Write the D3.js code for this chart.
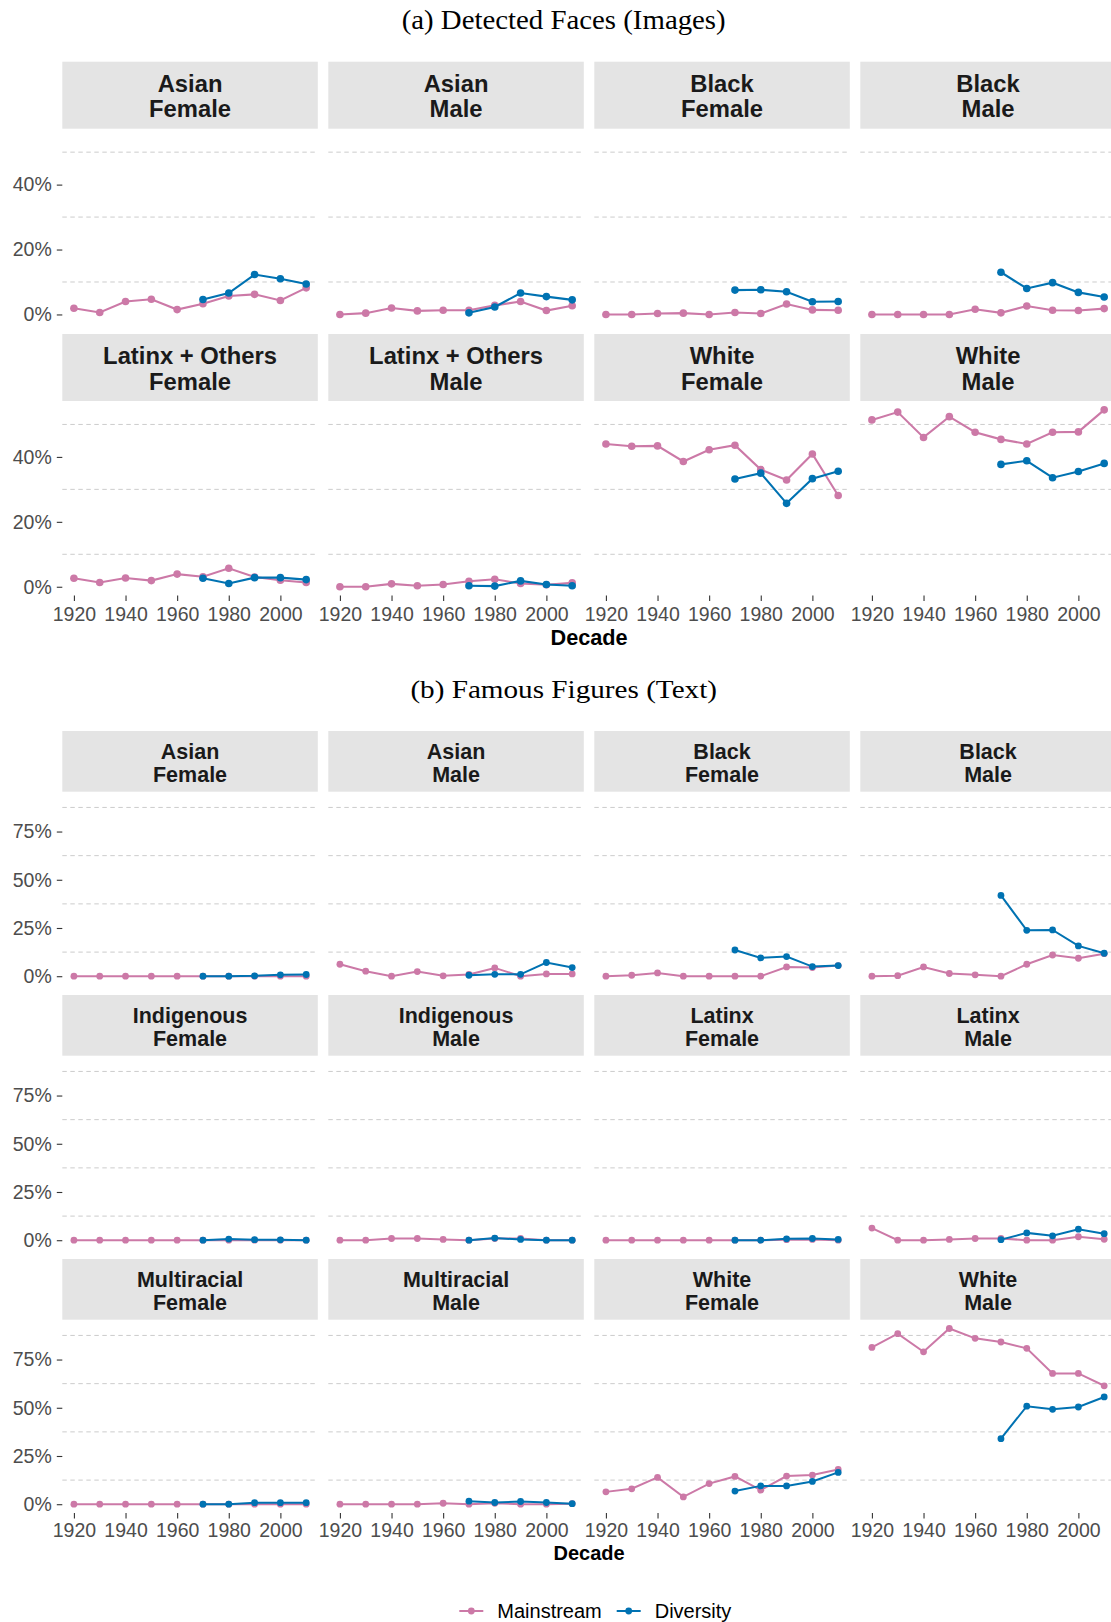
<!DOCTYPE html>
<html>
<head>
<meta charset="utf-8">
<script src="https://cdn.jsdelivr.net/npm/d3@7"></script>
<style>
body { margin: 0; background: #fff; }
text { font-family: "Liberation Sans", Arial, sans-serif; }
</style>
</head>
<body>
<script>
//Page size
var W = 1111, H = 1622;

//Decades on the x axis. Diversity series only start in 1970
var decades = [1920, 1930, 1940, 1950, 1960, 1970, 1980, 1990, 2000, 2010];
var divDecades = [1970, 1980, 1990, 2000, 2010];
var yearTicks = [1920, 1940, 1960, 1980, 2000];

var seriesNames = ["Mainstream", "Diversity"];
var seriesColors = ["#CC79A7", "#0072B2"];

//(a) Detected Faces (Images), values in percent
var faceGroups = [
	["Asian", "Female"], ["Asian", "Male"], ["Black", "Female"], ["Black", "Male"],
	["Latinx + Others", "Female"], ["Latinx + Others", "Male"], ["White", "Female"], ["White", "Male"]
];
var faceMainstream = [
	[1.9, 0.6, 4.0, 4.7, 1.5, 3.3, 5.7, 6.2, 4.3, 8.2],
	[0, 0.4, 2.0, 1.1, 1.3, 1.3, 2.8, 4.0, 1.2, 2.7],
	[0, 0, 0.3, 0.4, 0, 0.6, 0.3, 3.2, 1.4, 1.3],
	[0, 0, 0, 0, 1.6, 0.5, 2.6, 1.3, 1.2, 1.8],
	[2.6, 1.3, 2.7, 1.9, 3.9, 3.1, 5.7, 3.0, 2.0, 1.3],
	[0, 0, 0.9, 0.3, 0.7, 1.7, 2.3, 1.0, 0.6, 1.2],
	[44.0, 43.3, 43.4, 38.6, 42.2, 43.6, 36.1, 32.9, 40.9, 28.1],
	[51.4, 53.8, 46.0, 52.4, 47.6, 45.4, 44.0, 47.6, 47.7, 54.5]
];
var faceDiversity = [
	[4.6, 6.6, 12.3, 11.0, 9.4],
	[0.5, 2.3, 6.6, 5.5, 4.5],
	[7.5, 7.6, 7.0, 3.9, 4.0],
	[13.0, 8.0, 9.8, 6.8, 5.4],
	[2.6, 1.0, 2.8, 2.8, 2.2],
	[0.3, 0.2, 1.8, 0.7, 0.3],
	[33.2, 35.0, 25.7, 33.3, 35.6],
	[37.7, 38.8, 33.6, 35.5, 38.0]
];
var faceTicks = [0, 20, 40];
var faceGrid = [10, 30, 50];

//(b) Famous Figures (Text), values in percent
var textGroups = [
	["Asian", "Female"], ["Asian", "Male"], ["Black", "Female"], ["Black", "Male"],
	["Indigenous", "Female"], ["Indigenous", "Male"], ["Latinx", "Female"], ["Latinx", "Male"],
	["Multiracial", "Female"], ["Multiracial", "Male"], ["White", "Female"], ["White", "Male"]
];
var textMainstream = [
	[0, 0, 0, 0, 0, 0, 0, 0, 0, 0],
	[6.2, 2.6, 0, 2.4, 0.2, 0.9, 4.3, 0, 1.2, 1.2],
	[0, 0.5, 1.7, 0, 0, 0, 0, 4.8, 4.5, 5.5],
	[0, 0.3, 4.8, 1.4, 0.7, 0, 6.2, 11.0, 9.3, 11.7],
	[0, 0, 0, 0, 0, 0, 0, 0, 0, 0],
	[0, 0, 0.9, 0.9, 0.4, 0, 0.9, 0.9, 0, 0],
	[0, 0, 0, 0, 0, 0, 0, 0.3, 0.4, 0],
	[6.3, 0, 0, 0.4, 0.9, 0.9, 0, 0, 1.8, 0.5],
	[0, 0, 0, 0, 0, 0, 0, 0, 0, 0],
	[0, 0, 0, 0, 0.5, 0, 0.5, 0, 0, 0.3],
	[6.4, 8.0, 13.9, 3.8, 10.7, 14.4, 7.3, 14.6, 15.1, 18.0],
	[81.3, 88.4, 79.0, 91.1, 86.0, 84.1, 80.8, 67.8, 67.8, 61.4]
];
var textDiversity = [
	[0, 0, 0.2, 0.7, 0.9],
	[0.5, 1.0, 1.0, 7.1, 4.5],
	[13.6, 9.5, 10.2, 5.0, 5.5],
	[41.9, 23.8, 24.0, 15.7, 11.9],
	[0, 0.6, 0.3, 0.2, 0],
	[0, 1.1, 0.4, 0, 0],
	[0, 0, 0.7, 0.9, 0.4],
	[0.3, 3.8, 2.3, 5.7, 3.4],
	[0, 0, 0.8, 0.8, 0.8],
	[1.6, 0.9, 1.4, 0.9, 0.3],
	[6.8, 9.5, 9.5, 11.8, 16.5],
	[34.0, 50.8, 49.2, 50.4, 55.6]
];
var textTicks = [0, 25, 50, 75];
var textGrid = [12.5, 37.5, 62.5, 87.5];

//Panel grid, shared by both sub figures
var panelX0 = 62.3, panelW = 255.5, gapX = 10.5, nCols = 4;
var plotMid = panelX0 + (nCols * panelW + (nCols - 1) * gapX) / 2;

var svg = d3.select("body")
	.append("svg")
	.attr("width", W)
	.attr("height", H);

svg.append("rect")
	.attr("width", W)
	.attr("height", H)
	.style("fill", "white");

//ggplot style 5% expansion on both ends
function expand(lo, hi) {
	var pad = (hi - lo) * 0.05;
	return [lo - pad, hi + pad];
}

var x = d3.scaleLinear()
	.domain(expand(d3.min(decades), d3.max(decades)))
	.range([0, panelW]);

function drawSection(cfg) {
	svg.append("text")
		.attr("x", 563.7)
		.attr("y", cfg.titleY)
		.attr("text-anchor", "middle")
		.attr("textLength", cfg.titleW)
		.attr("lengthAdjust", "spacingAndGlyphs")
		.style("font-family", "'Liberation Serif', 'Times New Roman', serif")
		.style("font-size", cfg.titleSize + "px")
		.style("fill", "#000")
		.text(cfg.title);

	var maxV = d3.max(cfg.main.concat(cfg.div), function(s){return d3.max(s)});
	var y = d3.scaleLinear()
		.domain(expand(0, maxV))
		.range([cfg.panelH, 0]);

	var nRows = Math.ceil(cfg.groups.length / nCols);
	var line = d3.line()
		.x(function(d){return x(d[0])})
		.y(function(d){return y(d[1])});

	cfg.groups.forEach(function(g, i) {
		var col = i % nCols, row = Math.floor(i / nCols);
		var px = panelX0 + col * (panelW + gapX);
		var stripTop = cfg.top + row * cfg.rowStep;

		//strip
		svg.append("rect")
			.attr("x", px).attr("y", stripTop)
			.attr("width", panelW).attr("height", cfg.stripH)
			.style("fill", "#E4E4E4");
		g.forEach(function(t, k) {
			svg.append("text")
				.attr("x", px + panelW / 2)
				.attr("y", stripTop + cfg.stripLines[k])
				.attr("text-anchor", "middle")
				.style("font-size", cfg.stripSize + "px")
				.style("font-weight", "bold")
				.style("fill", "#1A1A1A")
				.text(t);
		});

		var panel = svg.append("g")
			.attr("transform", "translate(" + px + "," + (stripTop + cfg.stripH) + ")");

		panel.selectAll(".grid")
			.data(cfg.grid)
			.enter().append("line")
			.attr("x1", 0).attr("x2", panelW)
			.attr("y1", function(d){return y(d)})
			.attr("y2", function(d){return y(d)})
			.style("stroke", "#CCCCCC")
			.style("stroke-width", 1)
			.style("stroke-dasharray", "4.5,3.5");

		var series = [
			d3.zip(decades, cfg.main[i]),
			d3.zip(divDecades, cfg.div[i])
		];
		series.forEach(function(s, k) {
			panel.append("path")
				.datum(s)
				.attr("d", line)
				.style("fill", "none")
				.style("stroke", seriesColors[k])
				.style("stroke-width", cfg.lineW);
			panel.selectAll(".pt" + k)
				.data(s)
				.enter().append("circle")
				.attr("cx", function(d){return x(d[0])})
				.attr("cy", function(d){return y(d[1])})
				.attr("r", cfg.ptR)
				.style("fill", seriesColors[k]);
		});

		if (col == 0) {
			var ya = panel.append("g")
				.call(d3.axisLeft(y).tickValues(cfg.ticks).tickSize(5.5).tickPadding(5)
					.tickFormat(function(d){return d + "%"}));
			styleAxis(ya, cfg.tickSize);
		}
		if (row == nRows - 1) {
			var xa = panel.append("g")
				.attr("transform", "translate(0," + cfg.panelH + ")")
				.call(d3.axisBottom(x).tickValues(yearTicks).tickSize(5.5).tickPadding(cfg.xPad)
					.tickFormat(d3.format("d")));
			styleAxis(xa, cfg.tickSize);
		}
	});

	var bottom = cfg.top + (nRows - 1) * cfg.rowStep + cfg.stripH + cfg.panelH;
	svg.append("text")
		.attr("x", plotMid)
		.attr("y", bottom + cfg.decadeDy)
		.attr("text-anchor", "middle")
		.style("font-size", cfg.decadeSize + "px")
		.style("font-weight", "bold")
		.style("fill", "#000")
		.text("Decade");
}

function styleAxis(a, size) {
	a.select(".domain").remove();
	a.selectAll("line").style("stroke", "#333333").style("stroke-width", 1.1);
	a.selectAll("text")
		.style("font-family", "'Liberation Sans', Arial, sans-serif")
		.style("font-size", size + "px")
		.style("fill", "#4D4D4D");
}

drawSection({
	title: "(a) Detected Faces (Images)", titleY: 29.3, titleW: 324, titleSize: 27,
	groups: faceGroups, main: faceMainstream, div: faceDiversity,
	ticks: faceTicks, grid: faceGrid,
	top: 61.7, stripH: 67, panelH: 194.6, rowStep: 272.3,
	stripLines: [30, 55.6], stripSize: 23.8,
	tickSize: 19.5, xPad: 6, decadeDy: 49.4, decadeSize: 21.7,
	lineW: 2.1, ptR: 3.8
});

drawSection({
	title: "(b) Famous Figures (Text)", titleY: 697.7, titleW: 306.6, titleSize: 25.5,
	groups: textGroups, main: textMainstream, div: textDiversity,
	ticks: textTicks, grid: textGrid,
	top: 731, stripH: 60.7, panelH: 193.3, rowStep: 264,
	stripLines: [28, 51], stripSize: 21.5,
	tickSize: 19.5, xPad: 4.4, decadeDy: 47, decadeSize: 20,
	lineW: 2, ptR: 3.4
});

//Legend at the bottom
var legendX = [459.3, 616.7];
var legend = svg.selectAll(".legend")
	.data(seriesNames)
	.enter().append("g")
	.attr("transform", function(d, i){return "translate(" + legendX[i] + ",1611)"});

legend.append("line")
	.attr("x1", 0).attr("x2", 24)
	.style("stroke", function(d, i){return seriesColors[i]})
	.style("stroke-width", 2);

legend.append("circle")
	.attr("cx", 12)
	.attr("r", 3.4)
	.style("fill", function(d, i){return seriesColors[i]});

legend.append("text")
	.attr("x", 38)
	.attr("y", 7.3)
	.style("font-size", "20px")
	.style("fill", "#000")
	.text(function(d){return d});
</script>
</body>
</html>
